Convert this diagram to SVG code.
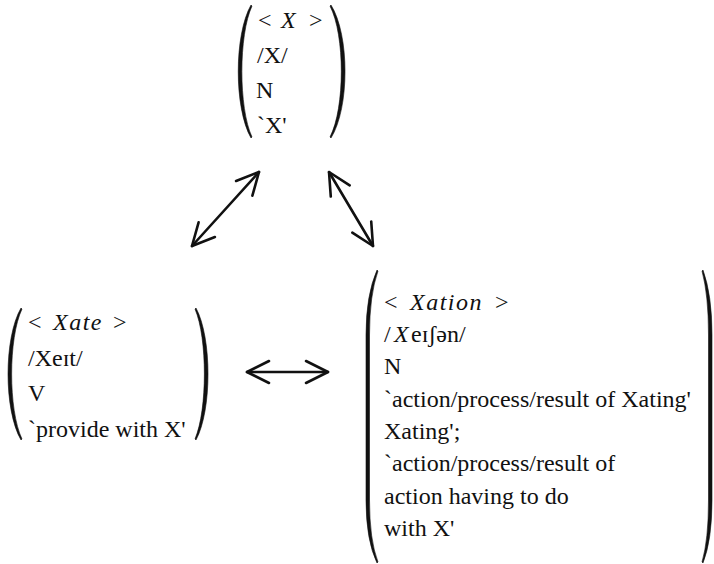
<svg xmlns="http://www.w3.org/2000/svg" width="714" height="564" viewBox="0 0 714 564">
<style>
text{font-family:"Liberation Serif","DejaVu Serif","Times New Roman",Times,serif;font-size:24px;fill:#111}
.it{font-style:italic}
.paren{fill:#111;stroke:#111;stroke-width:0.6}
.conn{stroke:#111;stroke-width:2.6;fill:none;stroke-linecap:round}
</style>
<defs>
<marker id="ah" markerUnits="userSpaceOnUse" refX="0" refY="0" markerWidth="30" markerHeight="30" orient="auto-start-reverse" overflow="visible">
<path d="M-22,-11 L0,0 L-22,11" fill="none" stroke="#111" stroke-width="2.6" stroke-linecap="round" stroke-linejoin="round"/>
</marker>
</defs>
<rect width="714" height="564" fill="#fff"/>
<g id="node-X" font-family="Liberation Serif, DejaVu Serif, serif">
<path class="paren" d="M251,5 C234,35 234,108 251,138 L252,137 C238.5,108 238.5,35 252,6 Z"/>
<path class="paren" d="M331,5 C349.7,35 349.7,108 331,138 L330,137 C345.1,108 345.1,35 330,6 Z"/>
<text y="28"><tspan x="258">&lt;</tspan><tspan class="it" x="281">X</tspan><tspan x="309">&gt;</tspan></text>
<text x="257" y="63">/X/</text>
<text x="256" y="98">N</text>
<text x="257" y="133">`X'</text>
</g>
<g id="node-Xate">
<path class="paren" d="M21,308 C3.7,338 3.7,410 21,440 L22,439 C8.2,410 8.2,338 22,309 Z"/>
<path class="paren" d="M196,308 C212,338 212,410 196,440 L195,439 C207.5,410 207.5,338 195,309 Z"/>
<text y="330"><tspan x="28">&lt;</tspan><tspan class="it" x="53" letter-spacing="1.5">Xate</tspan><tspan x="113">&gt;</tspan></text>
<text x="28" y="365.5">/Xeɪt/</text>
<text x="28" y="401">V</text>
<text x="28" y="436.5">`provide with X'</text>
</g>
<g id="node-Xation">
<path class="paren" d="M377,270 Q366,295 366,335 L366,500 Q366,540 377,563 L378,562 Q369.5,540 369.5,500 L369.5,335 Q369.5,295 378,271 Z"/>
<path class="paren" d="M703,270 Q712,295 712,335 L712,500 Q712,540 703,563 L702,562 Q708.5,540 708.5,500 L708.5,335 Q708.5,295 702,271 Z"/>
<text y="310"><tspan x="384">&lt;</tspan><tspan class="it" x="410" letter-spacing="1.5">Xation</tspan><tspan x="495">&gt;</tspan></text>
<text y="342"><tspan x="384">/</tspan><tspan class="it" x="394">X</tspan><tspan x="411">eɪʃən/</tspan></text>
<text x="384" y="374">N</text>
<text x="384" y="407">`action/process/result of Xating'</text>
<text x="384" y="439">Xating';</text>
<text x="384" y="471">`action/process/result of</text>
<text x="384" y="504">action having to do</text>
<text x="384" y="536">with X'</text>
</g>
<g id="connectors">
<line class="conn" x1="192" y1="246" x2="259" y2="172" marker-start="url(#ah)" marker-end="url(#ah)"/>
<line class="conn" x1="329" y1="172" x2="373" y2="246" marker-start="url(#ah)" marker-end="url(#ah)"/>
<line class="conn" x1="247" y1="372" x2="328" y2="372" marker-start="url(#ah)" marker-end="url(#ah)"/>
</g>
</svg>
